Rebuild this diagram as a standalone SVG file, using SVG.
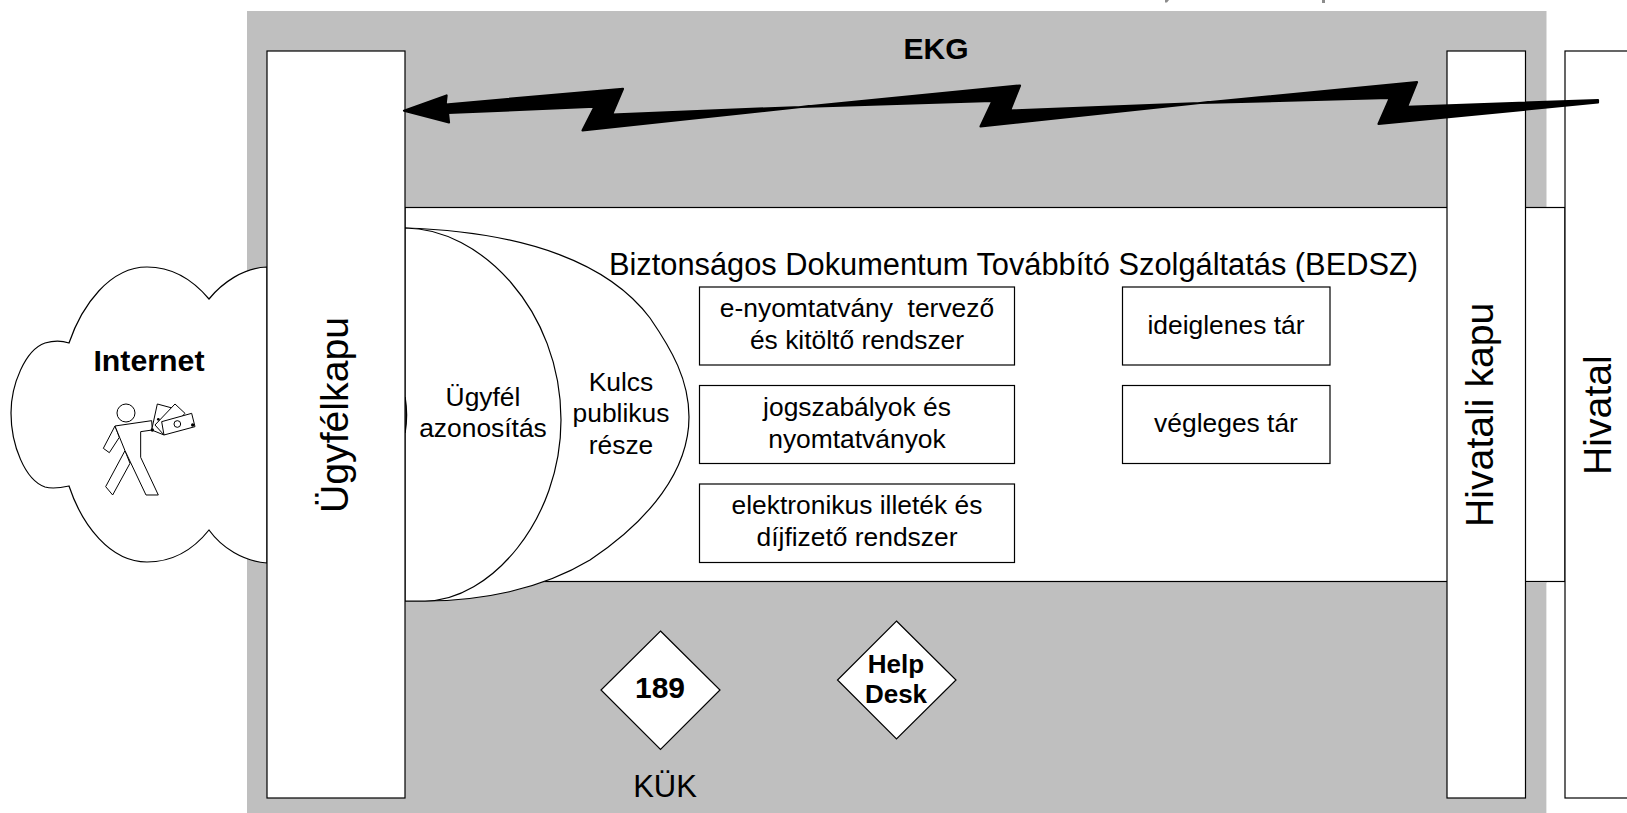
<svg xmlns="http://www.w3.org/2000/svg" width="1627" height="813" viewBox="0 0 1627 813">
<style>
text{font-family:"Liberation Sans",Arial,sans-serif;fill:#000}
.b{stroke:#000;stroke-width:1.2;fill:#fff}
.t{font-size:26.4px;text-anchor:middle}
.s{font-size:26.4px;text-anchor:middle}
.v{font-size:39.2px}
.h{font-weight:bold;text-anchor:middle}
.i{stroke:#000;stroke-width:3;fill:#fff;stroke-linejoin:round}
</style>
<rect width="1627" height="813" fill="#fff"/>
<path d="M1165,0h4l-2,2.500h-2zM1322,0h3v3h-3z" fill="#8c8c8c"/>
<g id="background"><rect x="247" y="11" width="1299.500" height="802" fill="#bfbfbf"/></g>
<g id="internet">
<path class="b" d="M267,267C243,268 222,283 209,299C193,280 172,267 147,267C110,267 82,305 69,343C60,340 52,341 45,343C25,350 11,385 11,413C11,445 25,480 45,487C52,489 60,488 69,486C82,525 110,562 147,562C172,562 193,550 209,530C222,548 243,561 267,563Z"/>
<text x="149" y="371" class="h" font-size="30.300">Internet</text>
<g id="person" transform="translate(90,380) scale(.3333)">
<circle class="i" cx="108" cy="99" r="27"/>
<path class="i" d="M88,172L58,218L40,205L75,138Z"/>
<path class="i" d="M105,212L47,320L68,345L120,250Z"/>
<path class="i" d="M75,138L185,122L187,150L152,155L152,232L205,345L168,345L105,212Z"/>
<path class="i" d="M202,72L250,85L222,165L185,150Z"/>
<path class="i" d="M255,72L285,100L222,165L195,135Z"/>
<path class="i" d="M215,125L305,100L315,140L222,165Z"/>
<circle class="i" cx="262" cy="132" r="10"/>
<circle cx="187" cy="150" r="5"/><circle cx="308" cy="135" r="5"/><circle cx="205" cy="118" r="4"/>
</g>
</g>
<g id="bedsz-band">
<rect class="b" x="405" y="207.500" width="1160" height="374"/>
<path d="M1525.500,582H1546.500V813H1525.500Z" fill="#bfbfbf"/>
<rect x="1546.500" y="582.800" width="18.500" height="230.200" fill="#fff"/>
<text x="1013.500" y="275" font-size="30.800" text-anchor="middle">Biztonságos Dokumentum Továbbító Szolgáltatás (BEDSZ)</text>
</g>
<g id="key-public">
<path class="b" d="M405,228C530,232 610,265 650,318C672,350 689,380 689,417C689,470 650,520 590,560C540,590 480,601 425,601L405,601Z"/>
<text class="s"><tspan x="621" y="391">Kulcs</tspan><tspan x="621" y="422">publikus</tspan><tspan x="621" y="454">része</tspan></text>
</g>
<g id="client-id">
<path class="b" d="M405,228C480,228 561,310 561,420C561,520 490,601 425,601L405,601Z"/>
<path d="M405,397Q408,415 405,433" fill="none" stroke="#000" stroke-width="1.500"/>
<text class="s"><tspan x="483" y="406">Ügyfél</tspan><tspan x="483" y="437">azonosítás</tspan></text>
</g>
<g id="ugyfelkapu">
<rect class="b" x="267" y="51" width="138" height="747"/>
<text class="v" transform="translate(348,513) rotate(-90)">Ügyfélkapu</text>
</g>
<g id="hivatali-kapu">
<rect class="b" x="1447" y="51" width="78.500" height="747"/>
<text class="v" transform="translate(1492.500,527) rotate(-90)">Hivatali kapu</text>
</g>
<g id="hivatal">
<rect class="b" x="1565" y="51" width="80" height="747"/>
<text class="v" transform="translate(1611,475) rotate(-90)">Hivatal</text>
</g>
<g id="box-enyomtatvany"><rect class="b" x="699.500" y="287" width="315" height="78"/>
<text class="t" xml:space="preserve"><tspan x="857" y="317">e-nyomtatvány  tervező</tspan><tspan x="857" y="349">és kitöltő rendszer</tspan></text></g>
<g id="box-jogszabalyok"><rect class="b" x="699.500" y="385.500" width="315" height="78"/>
<text class="t"><tspan x="857" y="416">jogszabályok és</tspan><tspan x="857" y="448">nyomtatványok</tspan></text></g>
<g id="box-illetek"><rect class="b" x="699.500" y="484" width="315" height="78.500"/>
<text class="t"><tspan x="857" y="514">elektronikus illeték és</tspan><tspan x="857" y="546">díjfizető rendszer</tspan></text></g>
<g id="box-ideiglenes"><rect class="b" x="1122.500" y="287" width="207.500" height="78"/>
<text class="t" x="1226" y="334">ideiglenes tár</text></g>
<g id="box-vegleges"><rect class="b" x="1122.500" y="385.500" width="207.500" height="78"/>
<text class="t" x="1226" y="432">végleges tár</text></g>
<g id="d189"><path class="b" d="M660.500,631L720,690L660.500,749.500L601,690Z"/>
<text x="660" y="698" class="h" font-size="30">189</text></g>
<g id="helpdesk"><path class="b" d="M896.500,621L956,680L896.500,739L837.500,680Z"/>
<text class="h" font-size="26"><tspan x="896" y="673">Help</tspan><tspan x="896" y="703">Desk</tspan></text></g>
<text id="kuk" x="665" y="797" font-size="31" text-anchor="middle">KÜK</text>
<text id="ekg" x="936" y="59" class="h" font-size="30">EKG</text>
<g id="connectors">
<path fill="#000" stroke="#000" stroke-width="2.200" stroke-linejoin="round" d="M404,110.700L446.600,95.500L445.600,104.500L623,88.800L612,114.500L801,107L1020,85.500L1010,110.500L1200,103L1417,82.200L1407,106.800L1598,100L1598,102.500L1378.500,124L1390,97.800L1200,103L980.500,126.500L992.500,101L801,107L582.500,130.500L594.600,106.700L448,113L449,122.500Z"/>
</g>
</svg>
